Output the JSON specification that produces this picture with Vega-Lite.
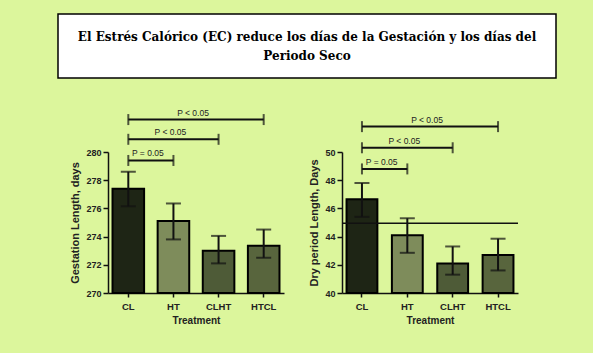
{
  "$schema": "https://vega.github.io/schema/vega-lite/v6.json",
  "background": "#dcf69c",
  "padding": {"left": 57, "top": 13, "right": 40, "bottom": 40},
  "datasets": {
    "title": [{"t": "El Estrés Calórico (EC) reduce los días de la Gestación y los días del\nPeriodo Seco"}],
    "gest": [
      {"trt": "CL", "mean": 277.4, "lo": 276.15, "hi": 278.6},
      {"trt": "HT", "mean": 275.1, "lo": 273.8, "hi": 276.35},
      {"trt": "CLHT", "mean": 273.0, "lo": 272.1, "hi": 274.05},
      {"trt": "HTCL", "mean": 273.35, "lo": 272.5, "hi": 274.5}
    ],
    "gestP": [
      {"from": 0, "to": 1, "mid": 0.5, "y": 279.4, "label": "P = 0.05"},
      {"from": 0, "to": 2, "mid": 1.0, "y": 280.9, "label": "P < 0.05"},
      {"from": 0, "to": 3, "mid": 1.5, "y": 282.3, "label": "P < 0.05"}
    ],
    "dry": [
      {"trt": "CL", "mean": 46.65, "lo": 45.4, "hi": 47.8},
      {"trt": "HT", "mean": 44.1, "lo": 42.85, "hi": 45.3},
      {"trt": "CLHT", "mean": 42.1, "lo": 41.3, "hi": 43.3},
      {"trt": "HTCL", "mean": 42.7, "lo": 41.6, "hi": 43.85}
    ],
    "dryP": [
      {"from": 0, "to": 1, "mid": 0.5, "y": 48.8, "label": "P = 0.05"},
      {"from": 0, "to": 2, "mid": 1.0, "y": 50.3, "label": "P < 0.05"},
      {"from": 0, "to": 3, "mid": 1.5, "y": 51.8, "label": "P < 0.05"}
    ],
    "ref": [{"ref": 44.95}],
    "none": []
  },
  "config": {
    "view": {"stroke": null},
    "font": "Liberation Sans",
    "axis": {
      "grid": false,
      "labelOverlap": false,
      "domainColor": "#111111",
      "domainWidth": 1.5,
      "tickColor": "#111111",
      "tickWidth": 1.5,
      "tickSize": 5,
      "labelColor": "#222222",
      "labelFont": "Liberation Sans",
      "labelFontWeight": "bold",
      "labelFontSize": 9,
      "titleFont": "Liberation Sans",
      "titleFontWeight": "bold",
      "titleColor": "#222222"
    },
    "axisY": {"labelOverlap": false, "tickCount": 6},
    "axisQuantitative": {"labelOverlap": false}
  },
  "vconcat": [
    {
      "width": 498,
      "height": 64,
      "view": {"fill": "white", "stroke": "black", "strokeWidth": 1.5},
      "data": {"name": "title"},
      "mark": {"type": "text", "lineBreak": "\n", "font": "DejaVu Serif", "fontWeight": "bold", "fontSize": 12, "lineHeight": 19, "align": "center", "baseline": "middle", "dy": -9.5, "color": "black"},
      "encoding": {"text": {"field": "t", "type": "nominal"}}
    },
    {
      "spacing": 10,
      "hconcat": [
        {
          "width": 1,
          "height": 1,
          "data": {"name": "none"},
          "mark": "text",
          "encoding": {}
        },
        {
          "spacing": 58,
          "bounds": "flush",
          "hconcat": [
            {
              "width": 176,
              "height": 141,
              "layer": [
                {
                  "data": {"name": "gest"},
                  "layer": [
                    {
                      "mark": {"type": "bar", "stroke": "black", "strokeWidth": 2},
                      "encoding": {
                        "x": {"field": "trt", "type": "nominal", "sort": null, "scale": {"paddingInner": 0.3, "paddingOuter": 0.1}, "axis": {"title": "Treatment", "labelAngle": 0, "labelFontSize": 9.5, "labelPadding": 4, "titleFontSize": 10, "titlePadding": 5, "tickSize": 4}},
                        "y": {"field": "mean", "type": "quantitative", "scale": {"domain": [270, 280], "nice": false, "zero": false}, "axis": {"title": "Gestation Length, days", "values": [270, 272, 274, 276, 278, 280], "labelOverlap": false, "titleFontSize": 11, "titlePadding": 5}},
                        "y2": {"datum": 270},
                        "color": {"field": "trt", "type": "nominal", "scale": {"domain": ["CL", "HT", "CLHT", "HTCL"], "range": ["#1e2515", "#7e8c5b", "#4e5b37", "#58653d"]}, "legend": null}
                      }
                    },
                    {
                      "mark": {"type": "rule", "strokeWidth": 2, "color": "#111111"},
                      "encoding": {
                        "x": {"field": "trt", "type": "nominal", "sort": null},
                        "y": {"field": "lo", "type": "quantitative"},
                        "y2": {"field": "hi"}
                      }
                    },
                    {
                      "mark": {"type": "tick", "size": 15, "thickness": 2, "color": "#111111"},
                      "encoding": {
                        "x": {"field": "trt", "type": "nominal", "sort": null},
                        "y": {"field": "hi", "type": "quantitative"}
                      }
                    },
                    {
                      "mark": {"type": "tick", "size": 15, "thickness": 2, "color": "#111111"},
                      "encoding": {
                        "x": {"field": "trt", "type": "nominal", "sort": null},
                        "y": {"field": "lo", "type": "quantitative"}
                      }
                    }
                  ]
                },
                {
                  "data": {"name": "gestP"},
                  "layer": [
                    {
                      "mark": {"type": "rule", "strokeWidth": 2, "color": "#111111"},
                      "encoding": {
                        "x": {"field": "from", "type": "quantitative", "scale": {"domain": [-0.45, 3.45], "nice": false, "zero": false}, "axis": null},
                        "x2": {"field": "to"},
                        "y": {"field": "y", "type": "quantitative"}
                      }
                    },
                    {
                      "mark": {"type": "tick", "orient": "vertical", "size": 11, "thickness": 2, "color": "#111111"},
                      "encoding": {
                        "x": {"field": "from", "type": "quantitative"},
                        "y": {"field": "y", "type": "quantitative"}
                      }
                    },
                    {
                      "mark": {"type": "tick", "orient": "vertical", "size": 11, "thickness": 2, "color": "#111111"},
                      "encoding": {
                        "x": {"field": "to", "type": "quantitative"},
                        "y": {"field": "y", "type": "quantitative"}
                      }
                    },
                    {
                      "mark": {"type": "text", "fontSize": 8.5, "color": "#222222", "baseline": "middle", "dy": -7, "dx": -3},
                      "encoding": {
                        "x": {"field": "mid", "type": "quantitative"},
                        "y": {"field": "y", "type": "quantitative"},
                        "text": {"field": "label", "type": "nominal"}
                      }
                    }
                  ]
                }
              ],
              "resolve": {"scale": {"x": "independent"}}
            },
            {
              "width": 176,
              "height": 141,
              "layer": [
                {
                  "data": {"name": "dry"},
                  "layer": [
                    {
                      "mark": {"type": "bar", "stroke": "black", "strokeWidth": 2},
                      "encoding": {
                        "x": {"field": "trt", "type": "nominal", "sort": null, "scale": {"paddingInner": 0.32, "paddingOuter": 0.1}, "axis": {"title": "Treatment", "labelAngle": 0, "labelFontSize": 9.5, "labelPadding": 4, "titleFontSize": 10, "titlePadding": 5, "tickSize": 4}},
                        "y": {"field": "mean", "type": "quantitative", "scale": {"domain": [40, 50], "nice": false, "zero": false}, "axis": {"title": "Dry period Length, Days", "values": [40, 42, 44, 46, 48, 50], "labelOverlap": false, "titleFontSize": 11, "titlePadding": 5}},
                        "y2": {"datum": 40},
                        "color": {"field": "trt", "type": "nominal", "scale": {"domain": ["CL", "HT", "CLHT", "HTCL"], "range": ["#1e2515", "#7e8c5b", "#4e5b37", "#58653d"]}, "legend": null}
                      }
                    },
                    {
                      "mark": {"type": "rule", "strokeWidth": 2, "color": "#111111"},
                      "encoding": {
                        "x": {"field": "trt", "type": "nominal", "sort": null},
                        "y": {"field": "lo", "type": "quantitative"},
                        "y2": {"field": "hi"}
                      }
                    },
                    {
                      "mark": {"type": "tick", "size": 15, "thickness": 2, "color": "#111111"},
                      "encoding": {
                        "x": {"field": "trt", "type": "nominal", "sort": null},
                        "y": {"field": "hi", "type": "quantitative"}
                      }
                    },
                    {
                      "mark": {"type": "tick", "size": 15, "thickness": 2, "color": "#111111"},
                      "encoding": {
                        "x": {"field": "trt", "type": "nominal", "sort": null},
                        "y": {"field": "lo", "type": "quantitative"}
                      }
                    }
                  ]
                },
                {
                  "data": {"name": "ref"},
                  "mark": {"type": "rule", "strokeWidth": 1.5, "color": "#111111"},
                  "encoding": {"y": {"field": "ref", "type": "quantitative"}}
                },
                {
                  "data": {"name": "dryP"},
                  "layer": [
                    {
                      "mark": {"type": "rule", "strokeWidth": 2, "color": "#111111"},
                      "encoding": {
                        "x": {"field": "from", "type": "quantitative", "scale": {"domain": [-0.44, 3.44], "nice": false, "zero": false}, "axis": null},
                        "x2": {"field": "to"},
                        "y": {"field": "y", "type": "quantitative"}
                      }
                    },
                    {
                      "mark": {"type": "tick", "orient": "vertical", "size": 11, "thickness": 2, "color": "#111111"},
                      "encoding": {
                        "x": {"field": "from", "type": "quantitative"},
                        "y": {"field": "y", "type": "quantitative"}
                      }
                    },
                    {
                      "mark": {"type": "tick", "orient": "vertical", "size": 11, "thickness": 2, "color": "#111111"},
                      "encoding": {
                        "x": {"field": "to", "type": "quantitative"},
                        "y": {"field": "y", "type": "quantitative"}
                      }
                    },
                    {
                      "mark": {"type": "text", "fontSize": 8.5, "color": "#222222", "baseline": "middle", "dy": -7, "dx": -3},
                      "encoding": {
                        "x": {"field": "mid", "type": "quantitative"},
                        "y": {"field": "y", "type": "quantitative"},
                        "text": {"field": "label", "type": "nominal"}
                      }
                    }
                  ]
                }
              ],
              "resolve": {"scale": {"x": "independent"}}
            }
          ]
        }
      ]
    }
  ],
  "spacing": 29
}
